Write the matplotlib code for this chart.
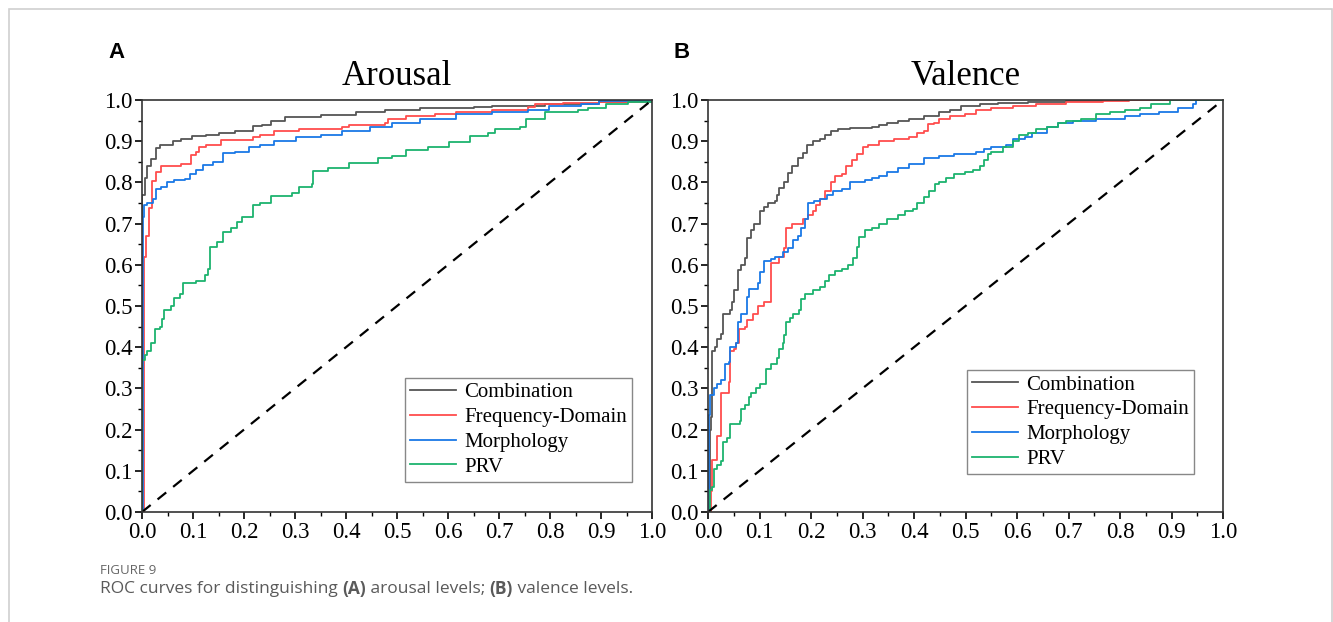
import matplotlib
matplotlib.use('Agg')
import matplotlib.pyplot as plt
from matplotlib.ticker import MultipleLocator
from matplotlib.patches import Rectangle

# ROC curve knots (fpr, tpr)
arousal_comb = [(0, 0), (0, 0.77), (0.005, 0.81), (0.010, 0.84), (0.018, 0.856), (0.028, 0.884),
                (0.035, 0.89), (0.06, 0.90), (0.077, 0.905), (0.098, 0.912), (0.126, 0.915),
                (0.15, 0.92), (0.182, 0.925), (0.217, 0.936), (0.235, 0.94), (0.252, 0.95),
                (0.28, 0.958), (0.35, 0.963), (0.42, 0.97), (0.476, 0.976), (0.546, 0.98),
                (0.651, 0.982), (0.686, 0.986), (0.791, 0.99), (0.896, 0.994), (0.966, 0.998), (1.0, 1.0)]
arousal_freq = [(0, 0), (0.003, 0.62), (0.007, 0.67), (0.014, 0.738), (0.020, 0.803), (0.027, 0.825),
                (0.038, 0.84), (0.077, 0.845), (0.097, 0.866), (0.105, 0.875), (0.112, 0.885),
                (0.126, 0.89), (0.154, 0.902), (0.217, 0.91), (0.231, 0.915), (0.259, 0.925),
                (0.308, 0.93), (0.392, 0.935), (0.406, 0.94), (0.476, 0.945), (0.483, 0.955),
                (0.518, 0.96), (0.574, 0.965), (0.616, 0.97), (0.686, 0.975), (0.756, 0.982),
                (0.77, 0.99), (0.826, 0.992), (0.896, 0.995), (1.0, 1.0)]
arousal_morph = [(0, 0), (0.002, 0.717), (0.004, 0.746), (0.0105, 0.75), (0.021, 0.76), (0.028, 0.783),
                 (0.038, 0.79), (0.049, 0.80), (0.063, 0.805), (0.084, 0.809), (0.095, 0.82),
                 (0.105, 0.83), (0.119, 0.842), (0.14, 0.85), (0.158, 0.872), (0.182, 0.875),
                 (0.21, 0.885), (0.231, 0.89), (0.259, 0.90), (0.301, 0.91), (0.35, 0.915),
                 (0.392, 0.925), (0.448, 0.935), (0.49, 0.945), (0.546, 0.955), (0.616, 0.965),
                 (0.686, 0.97), (0.756, 0.975), (0.798, 0.985), (0.861, 0.99), (0.896, 0.997), (1.0, 1.0)]
arousal_prv = [(0, 0), (0, 0.37), (0.006, 0.38), (0.010, 0.39), (0.018, 0.41), (0.025, 0.445),
               (0.035, 0.45), (0.039, 0.468), (0.043, 0.49), (0.056, 0.50), (0.063, 0.52),
               (0.074, 0.53), (0.081, 0.555), (0.105, 0.56), (0.123, 0.575), (0.130, 0.59),
               (0.133, 0.644), (0.147, 0.655), (0.158, 0.68), (0.175, 0.69), (0.186, 0.705),
               (0.196, 0.715), (0.217, 0.745), (0.231, 0.75), (0.252, 0.768), (0.294, 0.775),
               (0.308, 0.79), (0.333, 0.795), (0.336, 0.827), (0.364, 0.835), (0.406, 0.848),
               (0.462, 0.86), (0.49, 0.865), (0.518, 0.878), (0.56, 0.885), (0.602, 0.897),
               (0.644, 0.913), (0.679, 0.92), (0.693, 0.93), (0.742, 0.935), (0.753, 0.954),
               (0.784, 0.955), (0.791, 0.97), (0.854, 0.975), (0.875, 0.98), (0.91, 0.99),
               (0.952, 0.995), (1.0, 1.0)]

valence_comb = [(0, 0), (0.003, 0.2), (0.005, 0.23), (0.007, 0.39), (0.014, 0.40), (0.018, 0.42),
                (0.025, 0.433), (0.029, 0.48), (0.043, 0.49), (0.047, 0.51), (0.051, 0.54),
                (0.058, 0.587), (0.065, 0.60), (0.072, 0.616), (0.076, 0.664), (0.083, 0.685),
                (0.09, 0.70), (0.101, 0.73), (0.109, 0.74), (0.116, 0.75), (0.13, 0.755),
                (0.134, 0.77), (0.137, 0.787), (0.148, 0.80), (0.156, 0.823), (0.163, 0.84),
                (0.174, 0.86), (0.185, 0.872), (0.192, 0.89), (0.203, 0.90), (0.217, 0.905),
                (0.228, 0.915), (0.239, 0.925), (0.253, 0.93), (0.275, 0.932), (0.318, 0.935),
                (0.333, 0.94), (0.347, 0.945), (0.369, 0.95), (0.39, 0.955), (0.42, 0.96),
                (0.449, 0.97), (0.47, 0.975), (0.492, 0.985), (0.528, 0.99), (0.564, 0.993),
                (0.622, 0.995), (0.695, 0.998), (0.767, 1.0), (1.0, 1.0)]
valence_freq = [(0, 0), (0.005, 0.025), (0.006, 0.05), (0.007, 0.127), (0.018, 0.184), (0.025, 0.29),
                (0.04, 0.316), (0.043, 0.39), (0.051, 0.395), (0.054, 0.41), (0.061, 0.443),
                (0.072, 0.45), (0.076, 0.465), (0.087, 0.48), (0.098, 0.50), (0.109, 0.51),
                (0.123, 0.605), (0.137, 0.62), (0.148, 0.64), (0.152, 0.689), (0.163, 0.70),
                (0.185, 0.71), (0.195, 0.72), (0.203, 0.73), (0.21, 0.745), (0.217, 0.76),
                (0.228, 0.778), (0.239, 0.80), (0.246, 0.815), (0.26, 0.82), (0.268, 0.84),
                (0.279, 0.855), (0.289, 0.87), (0.30, 0.885), (0.311, 0.89), (0.333, 0.90),
                (0.362, 0.905), (0.39, 0.91), (0.405, 0.92), (0.42, 0.925), (0.427, 0.941),
                (0.438, 0.945), (0.449, 0.955), (0.47, 0.96), (0.499, 0.965), (0.521, 0.975),
                (0.55, 0.98), (0.593, 0.985), (0.637, 0.99), (0.695, 0.995), (0.767, 0.998),
                (0.818, 1.0), (1.0, 1.0)]
valence_morph = [(0, 0), (0.002, 0.235), (0.004, 0.285), (0.011, 0.30), (0.018, 0.31), (0.025, 0.32),
                 (0.033, 0.36), (0.04, 0.365), (0.043, 0.40), (0.054, 0.41), (0.058, 0.461),
                 (0.065, 0.48), (0.076, 0.522), (0.08, 0.542), (0.098, 0.555), (0.101, 0.583),
                 (0.109, 0.61), (0.123, 0.615), (0.13, 0.62), (0.145, 0.63), (0.156, 0.64),
                 (0.166, 0.66), (0.174, 0.67), (0.181, 0.69), (0.188, 0.71), (0.195, 0.75),
                 (0.206, 0.755), (0.217, 0.76), (0.232, 0.77), (0.243, 0.78), (0.26, 0.785),
                 (0.275, 0.80), (0.304, 0.805), (0.318, 0.81), (0.333, 0.815), (0.347, 0.825),
                 (0.369, 0.835), (0.39, 0.845), (0.42, 0.86), (0.449, 0.865), (0.478, 0.87),
                 (0.521, 0.875), (0.535, 0.88), (0.55, 0.885), (0.579, 0.89), (0.593, 0.905),
                 (0.615, 0.91), (0.63, 0.92), (0.658, 0.935), (0.68, 0.945), (0.709, 0.95),
                 (0.753, 0.955), (0.81, 0.96), (0.839, 0.965), (0.876, 0.97), (0.912, 0.98),
                 (0.941, 0.99), (0.948, 1.0), (1.0, 1.0)]
valence_prv = [(0, 0), (0.003, 0.053), (0.007, 0.06), (0.011, 0.105), (0.018, 0.115), (0.025, 0.125),
               (0.029, 0.17), (0.036, 0.18), (0.043, 0.214), (0.062, 0.22), (0.065, 0.25),
               (0.072, 0.26), (0.08, 0.28), (0.083, 0.29), (0.094, 0.30), (0.101, 0.31),
               (0.112, 0.346), (0.123, 0.36), (0.134, 0.375), (0.137, 0.395), (0.145, 0.41),
               (0.148, 0.43), (0.152, 0.46), (0.159, 0.47), (0.166, 0.48), (0.177, 0.49),
               (0.181, 0.518), (0.188, 0.53), (0.203, 0.54), (0.217, 0.545), (0.228, 0.56),
               (0.235, 0.575), (0.246, 0.585), (0.26, 0.59), (0.271, 0.60), (0.282, 0.616),
               (0.289, 0.644), (0.293, 0.668), (0.304, 0.685), (0.318, 0.69), (0.333, 0.70),
               (0.347, 0.71), (0.369, 0.72), (0.383, 0.73), (0.398, 0.735), (0.405, 0.75),
               (0.42, 0.765), (0.43, 0.78), (0.441, 0.795), (0.449, 0.80), (0.463, 0.81),
               (0.478, 0.82), (0.499, 0.825), (0.514, 0.83), (0.528, 0.84), (0.535, 0.855),
               (0.543, 0.87), (0.55, 0.875), (0.572, 0.885), (0.593, 0.90), (0.604, 0.915),
               (0.622, 0.92), (0.637, 0.93), (0.658, 0.935), (0.68, 0.945), (0.695, 0.95),
               (0.724, 0.955), (0.753, 0.965), (0.781, 0.97), (0.81, 0.975), (0.839, 0.98),
               (0.861, 0.99), (0.897, 1.0), (1.0, 1.0)]

labels = ['Combination', 'Frequency-Domain', 'Morphology', 'PRV']
colors = ['#555555', '#ff4d4d', '#1a78e6', '#1db36e']
ticks = [0.0, 0.1, 0.2, 0.3, 0.4, 0.5, 0.6, 0.7, 0.8, 0.9, 1.0]
tick_labels = ['0.0', '0.1', '0.2', '0.3', '0.4', '0.5', '0.6', '0.7', '0.8', '0.9', '1.0']

serif = 'Liberation Serif'

fig = plt.figure(figsize=(13.33, 6.22), dpi=100)
fig.patches.append(Rectangle((9 / 1333, -0.1), 1323 / 1333, 1.1 - 9 / 622, transform=fig.transFigure,
                             fill=False, edgecolor='#d0d0d0', linewidth=1.2))

panels = [
    ('A', 'Arousal', [arousal_comb, arousal_freq, arousal_morph, arousal_prv],
     [142 / 1333, 110 / 622, 510 / 1333, 412 / 622], (0.961, 0.073)),
    ('B', 'Valence', [valence_comb, valence_freq, valence_morph, valence_prv],
     [708 / 1333, 110 / 622, 515 / 1333, 412 / 622], (0.944, 0.092)),
]

for letter, title, curves, rect, leg_anchor in panels:
    ax = fig.add_axes(rect)
    for pts, lab, col in zip(curves, labels, colors):
        fpr = [p[0] for p in pts]
        tpr = [p[1] for p in pts]
        ax.plot(fpr, tpr, drawstyle='steps-post', color=col, lw=1.3, label=lab)
    ax.plot([0, 1], [0, 1], color='black', lw=1.6, ls=(0, (5, 4)))
    ax.set_xlim(0, 1)
    ax.set_ylim(0, 1)
    ax.set_xticks(ticks)
    ax.set_yticks(ticks)
    ax.set_xticklabels(tick_labels, fontfamily=serif, fontsize=16.5)
    ax.set_yticklabels(tick_labels, fontfamily=serif, fontsize=16.5)
    ax.xaxis.set_minor_locator(MultipleLocator(0.05))
    ax.yaxis.set_minor_locator(MultipleLocator(0.05))
    ax.tick_params(which='major', direction='out', length=5, width=1.2, pad=2)
    ax.tick_params(which='minor', direction='out', length=3, width=1.0)
    for sp in ax.spines.values():
        sp.set_linewidth(1.2)
        sp.set_color('#333333')
    ax.set_title(title, fontfamily=serif, fontsize=25, pad=11)
    leg = ax.legend(loc='lower right', bbox_to_anchor=leg_anchor, prop={'family': serif, 'size': 15},
                    fancybox=False, edgecolor='#888888', framealpha=1, handlelength=2.2,
                    labelspacing=0.25, borderpad=0.25, handletextpad=0.4, borderaxespad=0)
    leg.get_frame().set_linewidth(1.0)
    fig.text(rect[0] - 34 / 1333, 1 - 53 / 622, letter, fontfamily='Liberation Sans',
             fontweight='bold', fontsize=16, va='center', ha='left')

# caption
cap_color = '#5a5a5a'
fig.text(100 / 1333, 1 - 571 / 622, 'FIGURE 9', fontfamily='Open Sans', fontsize=9.5,
         color='#666666', va='center')
parts = [('ROC curves for distinguishing ', 'normal'), ('(A)', 'bold'), (' arousal levels; ', 'normal'),
         ('(B)', 'bold'), (' valence levels.', 'normal')]
fig.canvas.draw()
renderer = fig.canvas.get_renderer()
x = 100
for txt, wt in parts:
    t = fig.text(x / 1333, 1 - 589 / 622, txt, fontfamily='Open Sans', fontsize=12.5,
                 fontweight=wt, color=cap_color, va='center')
    bb = t.get_window_extent(renderer=renderer)
    x += bb.width

fig.savefig('out.png', dpi=100)
